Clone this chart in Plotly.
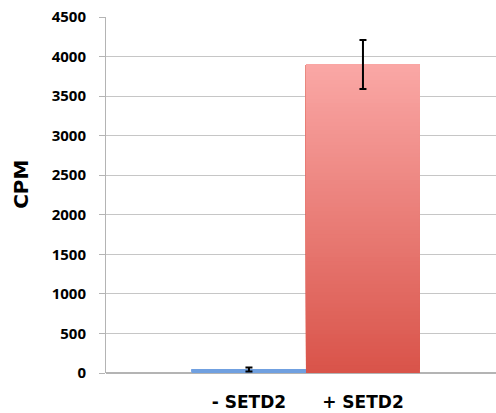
import plotly.graph_objects as go

categories = ["- SETD2", "+ SETD2"]
values = [45, 3900]
errors = [25, 310]
y_ticks = [0, 500, 1000, 1500, 2000, 2500, 3000, 3500, 4000, 4500]

# gradient endpoints (bottom, top) per bar
grad = [((112, 160, 224), (112, 160, 224)), ((217, 84, 74), (250, 167, 165))]
N = 80

fig = go.Figure()
for cat, v, (c0, c1) in zip(categories, values, grad):
    xs, ys, bases, cols = [], [], [], []
    for k in range(N):
        t = k / (N - 1)
        col = tuple(round(c0[j] + (c1[j] - c0[j]) * t) for j in range(3))
        b = v * k / N
        xs.append(cat)
        bases.append(b)
        ys.append(v - b)
        cols.append("rgb(%d,%d,%d)" % col)
    fig.add_trace(go.Bar(x=xs, y=ys, base=bases, width=1,
                         marker=dict(color=cols, line=dict(width=0)),
                         showlegend=False, hoverinfo="skip"))

fig.add_trace(go.Scatter(
    x=categories, y=values, mode="markers",
    marker=dict(size=1, color="rgba(0,0,0,0)"),
    error_y=dict(type="data", array=errors, visible=True,
                 color="black", thickness=2, width=3.5),
    showlegend=False))

fig.update_layout(
    width=496, height=413,
    margin=dict(l=106, r=0, t=17, b=40, autoexpand=False),
    plot_bgcolor="white", paper_bgcolor="white",
    barmode="overlay",
    font=dict(family="Open Sans", color="black"),
    xaxis=dict(type="category", range=[-1.254, 2.167],
               showgrid=False, showline=False, ticks="",
               tickfont=dict(size=17, family="DejaVu Sans", weight="bold"),
               ticklabelstandoff=17, automargin=False, fixedrange=True),
    yaxis=dict(range=[0, 4500], tickvals=y_ticks,
               showgrid=True, gridcolor="#c6c6c6", gridwidth=1,
               showline=True, linecolor="#b4b4b4", linewidth=1,
               ticks="outside", ticklen=6, tickcolor="#b4b4b4",
               tickfont=dict(size=15, family="Open Sans", weight="bold"),
               ticklabelstandoff=10, zeroline=True, zerolinecolor="#b4b4b4",
               automargin=False),
    annotations=[dict(text="CPM", textangle=-90, xref="paper", yref="paper",
                      x=-0.2167, y=0.53, xanchor="center", yanchor="middle",
                      showarrow=False,
                      font=dict(size=20, family="DejaVu Sans", weight="bold"))],
)

fig.write_html("out.html", config={"displayModeBar": False},
               post_script="document.body.style.margin='0';document.body.style.overflow='hidden';")
